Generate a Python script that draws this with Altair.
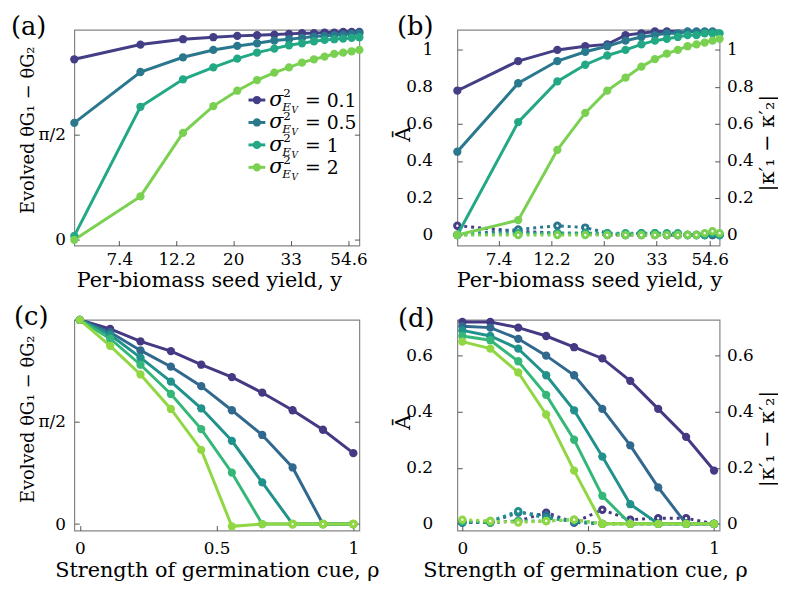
import altair as alt
import pandas as pd

# ---------------- data ----------------
seed_yield = [5, 8.9, 12.9, 16.8, 20.7, 24.6, 28.6, 32.5, 36.4, 40.4, 44.3, 48.2, 52.1, 56.1, 60]
rho = [0, 0.111, 0.222, 0.333, 0.444, 0.556, 0.667, 0.778, 0.889, 1]

sigma_values = ["0.1", "0.5", "1", "2"]          # sigma^2_{E_V}
cue_labels = ["c1", "c2", "c3", "c4", "c5"]
panel_labels = ["(a)", "(b)", "(c)", "(d)"]

# panel (a): evolved theta difference vs seed yield
theta_a_01 = [2.70, 2.92, 3.00, 3.03, 3.05, 3.06, 3.07, 3.08, 3.09, 3.09, 3.10, 3.10, 3.11, 3.11, 3.11]
theta_a_05 = [1.75, 2.51, 2.73, 2.84, 2.90, 2.94, 2.98, 3.00, 3.02, 3.04, 3.05, 3.06, 3.07, 3.08, 3.09]
theta_a_1 = [0.06, 1.99, 2.40, 2.58, 2.71, 2.80, 2.86, 2.91, 2.94, 2.97, 2.99, 3.00, 3.01, 3.02, 3.03]
theta_a_2 = [0.0, 0.65, 1.60, 2.00, 2.23, 2.39, 2.50, 2.58, 2.65, 2.70, 2.74, 2.78, 2.80, 2.82, 2.84]

# panel (b): A-bar (solid) and |k1' - k2'| (dotted) vs seed yield
abar_b_01 = [0.78, 0.94, 1.00, 1.02, 1.03, 1.08, 1.09, 1.10, 1.10, 1.11, 1.12, 1.12, 1.13, 1.13, 1.14]
abar_b_05 = [0.45, 0.82, 0.94, 0.99, 1.02, 1.05, 1.07, 1.08, 1.09, 1.09, 1.10, 1.10, 1.10, 1.10, 1.11]
abar_b_1 = [0.0, 0.61, 0.83, 0.92, 0.97, 1.00, 1.03, 1.05, 1.06, 1.07, 1.08, 1.08, 1.09, 1.09, 1.09]
abar_b_2 = [0.0, 0.08, 0.46, 0.66, 0.78, 0.85, 0.91, 0.95, 0.98, 1.00, 1.02, 1.03, 1.04, 1.05, 1.06]
kappa_b_01 = [0.05, 0.02, 0.01, 0.01, 0.0, 0.0, 0.0, 0.0, 0.0, 0.0, 0.0, 0.0, 0.0, 0.0, 0.0]
kappa_b_05 = [0.0, 0.03, 0.05, 0.04, 0.01, 0.0, 0.01, 0.01, 0.0, 0.0, 0.0, 0.0, 0.0, 0.0, 0.0]
kappa_b_1 = [0.0, 0.01, 0.01, 0.01, 0.01, 0.01, 0.01, 0.01, 0.01, 0.01, 0.0, 0.0, 0.0, 0.01, 0.0]
kappa_b_2 = [0.0, 0.0, 0.0, 0.0, 0.0, 0.0, 0.0, 0.0, 0.0, 0.0, 0.0, 0.0, 0.01, 0.02, 0.01]

# panel (c): evolved theta difference vs cue strength
theta_c_1 = [3.14, 3.00, 2.81, 2.66, 2.45, 2.26, 2.02, 1.75, 1.45, 1.09]
theta_c_2 = [3.14, 2.95, 2.67, 2.42, 2.12, 1.75, 1.37, 0.87, 0.0, 0.0]
theta_c_3 = [3.14, 2.91, 2.56, 2.19, 1.78, 1.28, 0.64, 0.0, 0.0, 0.0]
theta_c_4 = [3.14, 2.85, 2.45, 2.00, 1.46, 0.79, 0.0, 0.0, 0.0, 0.0]
theta_c_5 = [3.14, 2.74, 2.30, 1.77, 1.14, -0.035, 0.0, 0.0, 0.0, 0.0]
hollow_c_rho = [0.778, 0.889, 1]  # open markers on the last series

# panel (d): A-bar (solid) and |k1' - k2'| (dotted) vs cue strength
abar_d_1 = [0.72, 0.72, 0.70, 0.67, 0.63, 0.59, 0.51, 0.41, 0.31, 0.19]
abar_d_2 = [0.705, 0.70, 0.66, 0.60, 0.53, 0.41, 0.28, 0.13, 0.0, 0.0]
abar_d_3 = [0.69, 0.67, 0.625, 0.53, 0.405, 0.24, 0.07, 0.0, 0.0, 0.0]
abar_d_4 = [0.67, 0.655, 0.58, 0.46, 0.30, 0.10, 0.0, 0.0, 0.0, 0.0]
abar_d_5 = [0.65, 0.625, 0.54, 0.39, 0.19, 0.0, 0.0, 0.0, 0.0, 0.0]
kappa_d_1 = [0.005, 0.005, 0.01, 0.04, 0.005, 0.05, 0.015, 0.02, 0.02, 0.0]
kappa_d_2 = [0.005, 0.005, 0.04, 0.03, 0.005, 0.0, 0.0, 0.0, 0.0, 0.0]
kappa_d_3 = [0.005, 0.01, 0.045, 0.02, 0.01, 0.0, 0.0, 0.0, 0.0, 0.0]
kappa_d_4 = [0.01, 0.005, 0.01, 0.01, 0.015, 0.0, 0.0, 0.0, 0.0, 0.0]
kappa_d_5 = [0.015, 0.01, 0.005, 0.01, 0.015, 0.0, 0.0, 0.0, 0.0, 0.0]

pal4 = ["#433e85", "#2a788e", "#22a884", "#7ad151"]
pal5 = ["#443983", "#31688e", "#21918c", "#35b779", "#90d743"]


def long(xs, labels, series):
    rows = []
    for lab, vals in zip(labels, series):
        for x, v in zip(xs, vals):
            rows.append({"x": x, "v": v, "s": lab})
    return pd.DataFrame(rows)


df_a = long(seed_yield, sigma_values, [theta_a_01, theta_a_05, theta_a_1, theta_a_2])
df_b = long(seed_yield, sigma_values, [abar_b_01, abar_b_05, abar_b_1, abar_b_2])
df_bk = long(seed_yield, sigma_values, [kappa_b_01, kappa_b_05, kappa_b_1, kappa_b_2])
df_c = long(rho, cue_labels, [theta_c_1, theta_c_2, theta_c_3, theta_c_4, theta_c_5])
df_c_hollow = df_c[(df_c["s"] == cue_labels[-1]) & (df_c["x"].isin(hollow_c_rho))]
df_d = long(rho, cue_labels, [abar_d_1, abar_d_2, abar_d_3, abar_d_4, abar_d_5])
df_dk = long(rho, cue_labels, [kappa_d_1, kappa_d_2, kappa_d_3, kappa_d_4, kappa_d_5])
df_leg = pd.DataFrame({"s": sigma_values})

# ---------------- style ----------------
FONT = "DejaVu Serif"
GRAY = "#858585"
PI = 3.14159
sc4 = alt.Scale(domain=sigma_values, range=pal4)
sc5 = alt.Scale(domain=cue_labels, range=pal5)


def xaxis(values, title, labelPadding, titleX, titleY):
    return alt.Axis(values=values, format="~g", title=title, offset=-5, tickSize=5,
                    domain=False, grid=False, labelPadding=labelPadding,
                    labelFlush=False, labelOverlap=False,
                    titleX=titleX, titleY=titleY, titleBaseline="alphabetic",
                    titleAlign="center")


def yaxis(orient, values, title=None, labelPadding=5, titleX=0, titleY=0,
          labels=True, labelExpr=None, titleFontSize=21):
    kw = dict(orient=orient, values=values, offset=-5, tickSize=5, domain=False,
              grid=False, labels=labels, labelPadding=labelPadding, format="~g")
    if title is not None:
        kw.update(title=title, titleX=titleX, titleY=titleY, titleAngle=270,
                  titleBaseline="alphabetic", titleAlign="center",
                  titleFontSize=titleFontSize)
    else:
        kw["title"] = None
    if labelExpr:
        kw["labelExpr"] = labelExpr
    return alt.Axis(**kw)


def panel_label(text, x, y):
    return alt.Chart(pd.DataFrame({"t": [text]})).mark_text(
        font=FONT, fontSize=26, align="left", baseline="alphabetic", color="black"
    ).encode(text="t:N", x=alt.value(x), y=alt.value(y))


# ---------------- panel (a) ----------------
xs_log = alt.Scale(type="log", domain=[5, 60], nice=False, zero=False)
x_ticks_log = [7.4, 12.2, 20, 33, 54.6]
xa = alt.X("x:Q", scale=xs_log,
           axis=xaxis(x_ticks_log, "Per-biomass seed yield, y", 6, 136, 46))
ya_scale = alt.Scale(domain=[-0.085, PI], nice=False, zero=False)
theta_expr = "datum.value == 0 ? '0' : 'π/2'"
ya_left = alt.Y("v:Q", scale=ya_scale,
                axis=yaxis("left", [0, PI / 2], "Evolved θG₁ − θG₂", 9, -46, 101,
                           labelExpr=theta_expr, titleFontSize=18))
ya_right = alt.Y("v:Q", scale=ya_scale, axis=yaxis("right", [0, PI / 2], labels=False))
ca = alt.Color("s:N", scale=sc4, legend=None)

line_a = alt.Chart(df_a).mark_line(strokeWidth=3).encode(x=xa, y=ya_left, color=ca)
pts_a = alt.Chart(df_a).mark_point(filled=True, size=70, opacity=1).encode(
    x=xa, y=ya_right, color=ca)

# legend for sigma^2_{E_V}: rows placed by a point scale inside panel (a)
leg_y = alt.Y("s:N", scale=alt.Scale(type="point", domain=sigma_values, range=[71, 139],
                                     padding=0), axis=None)
leg_rule = alt.Chart(df_leg).mark_rule(strokeWidth=3).encode(
    x=alt.value(176), x2=alt.value(193), y=leg_y, color=ca)
leg_pt = alt.Chart(df_leg).mark_point(filled=True, size=70, opacity=1).encode(
    x=alt.value(184.5), y=leg_y, color=ca)


def leg_text(x, dy, size, text=None, italic=False):
    mk = dict(font=FONT, fontSize=size, align="left", baseline="alphabetic", dy=dy,
              color="black", fontStyle="italic" if italic else "normal")
    if text is not None:
        return alt.Chart(df_leg).mark_text(text=text, **mk).encode(x=alt.value(x), y=leg_y)
    return alt.Chart(df_leg).mark_text(**mk).transform_calculate(
        lbl="'= ' + datum.s").encode(x=alt.value(x), y=leg_y, text="lbl:N")


leg_layers = [leg_rule, leg_pt,
              leg_text(197, 6, 21, "σ", italic=True),
              leg_text(211, -3, 12, "2"),
              leg_text(210, 11, 12, "E", italic=True),
              leg_text(219.5, 13, 9, "V", italic=True),
              leg_text(233, 7, 19)]

panel_a = alt.layer(line_a, pts_a, *leg_layers,
                    panel_label(panel_labels[0], -64, 5)).resolve_scale(
    y="independent").properties(width=288, height=218)

# ---------------- panel (b) ----------------
xb = alt.X("x:Q", scale=xs_log,
           axis=xaxis(x_ticks_log, "Per-biomass seed yield, y", 6, 133, 46))
yb_scale = alt.Scale(domain=[-0.057, 1.109], nice=False, zero=False)
b_ticks = [0, 0.2, 0.4, 0.6, 0.8, 1]
yb_left = alt.Y("v:Q", scale=yb_scale, axis=yaxis("left", b_ticks, "Ā", 25, -53, 105))
yb_right = alt.Y("v:Q", scale=yb_scale,
                 axis=yaxis("right", b_ticks, "|κ′₁ − κ′₂|", 7, 59, 114))
cb = alt.Color("s:N", scale=sc4, legend=None)

bk_line = alt.Chart(df_bk).mark_line(strokeWidth=3, strokeDash=[3, 4]).encode(
    x=xb, y=yb_right, color=cb)
bk_pts = alt.Chart(df_bk).mark_point(filled=False, fill="white", size=30, strokeWidth=3,
                                     opacity=1).encode(x=xb, y=yb_right, color=cb)
b_line = alt.Chart(df_b).mark_line(strokeWidth=3, clip=True).encode(x=xb, y=yb_left, color=cb)
b_pts = alt.Chart(df_b).mark_point(filled=True, size=70, opacity=1).encode(
    x=xb, y=yb_left, color=cb).transform_filter("datum.v <= 1.105")
panel_b = alt.layer(alt.layer(bk_line, bk_pts), alt.layer(b_line, b_pts),
                    panel_label(panel_labels[1], -61, 5)).resolve_scale(
    y="independent").properties(width=265, height=218)

# ---------------- panel (c) ----------------
xs_lin = alt.Scale(domain=[-0.02, 1.022], nice=False, zero=False)
xc = alt.X("x:Q", scale=xs_lin,
           axis=xaxis([0, 0.5, 1], "Strength of germination cue, ρ", 10, 144, 51))
yc_scale = alt.Scale(domain=[-0.1, PI], nice=False, zero=False)
yc_left = alt.Y("v:Q", scale=yc_scale,
                axis=yaxis("left", [0, PI / 2], "Evolved θG₁ − θG₂", 9, -46, 100,
                           labelExpr=theta_expr, titleFontSize=18))
yc_right = alt.Y("v:Q", scale=yc_scale, axis=yaxis("right", [0, PI / 2], labels=False))
cc = alt.Color("s:N", scale=sc5, legend=None)

c_line = alt.Chart(df_c).mark_line(
    strokeWidth=3, point=alt.OverlayMarkDef(filled=True, size=70, opacity=1)).encode(
    x=xc, y=yc_left, color=cc)
c_hol = alt.Chart(df_c_hollow).mark_point(filled=False, fill="white", size=32,
                                          strokeWidth=3.5, opacity=1).encode(
    x=xc, y=yc_right, color=cc)
panel_c = alt.layer(c_line, c_hol, panel_label(panel_labels[2], -61, 5)).resolve_scale(
    y="independent").properties(width=288, height=213)

# ---------------- panel (d) ----------------
xd = alt.X("x:Q", scale=xs_lin,
           axis=xaxis([0, 0.5, 1], "Strength of germination cue, ρ", 10, 129, 51))
yd_scale = alt.Scale(domain=[-0.024, 0.728], nice=False, zero=False)
d_ticks = [0, 0.2, 0.4, 0.6]
yd_left = alt.Y("v:Q", scale=yd_scale, axis=yaxis("left", d_ticks, "Ā", 25, -53, 103))
yd_right = alt.Y("v:Q", scale=yd_scale,
                 axis=yaxis("right", d_ticks, "|κ′₁ − κ′₂|", 7, 59, 120))

dk_line = alt.Chart(df_dk).mark_line(strokeWidth=3, strokeDash=[3, 4]).encode(
    x=xd, y=yd_right, color=cc)
dk_pts = alt.Chart(df_dk).mark_point(filled=False, fill="white", size=30, strokeWidth=3,
                                     opacity=1).encode(x=xd, y=yd_right, color=cc)
d_line = alt.Chart(df_d).mark_line(
    strokeWidth=3, point=alt.OverlayMarkDef(filled=True, size=70, opacity=1)).encode(
    x=xd, y=yd_left, color=cc)
panel_d = alt.layer(alt.layer(dk_line, dk_pts), d_line,
                    panel_label(panel_labels[3], -60, 7)).resolve_scale(
    y="independent").properties(width=265, height=213)

# ---------------- assemble ----------------
chart = alt.concat(panel_a, panel_b, panel_c, panel_d, columns=2,
                   spacing={"row": 75, "column": 99}, bounds="flush").resolve_scale(
    color="independent").properties(
    padding={"left": 2, "top": 2, "right": 0, "bottom": 0}
).configure_view(stroke=GRAY, strokeWidth=1.2).configure_axis(
    labelFont=FONT, titleFont=FONT, labelFontSize=17, titleFontSize=21,
    titleFontWeight="normal", labelColor="black", titleColor="black",
    tickColor="#555555", tickWidth=1)

chart.save("out.html", embed_options={"renderer": "svg", "actions": False})
